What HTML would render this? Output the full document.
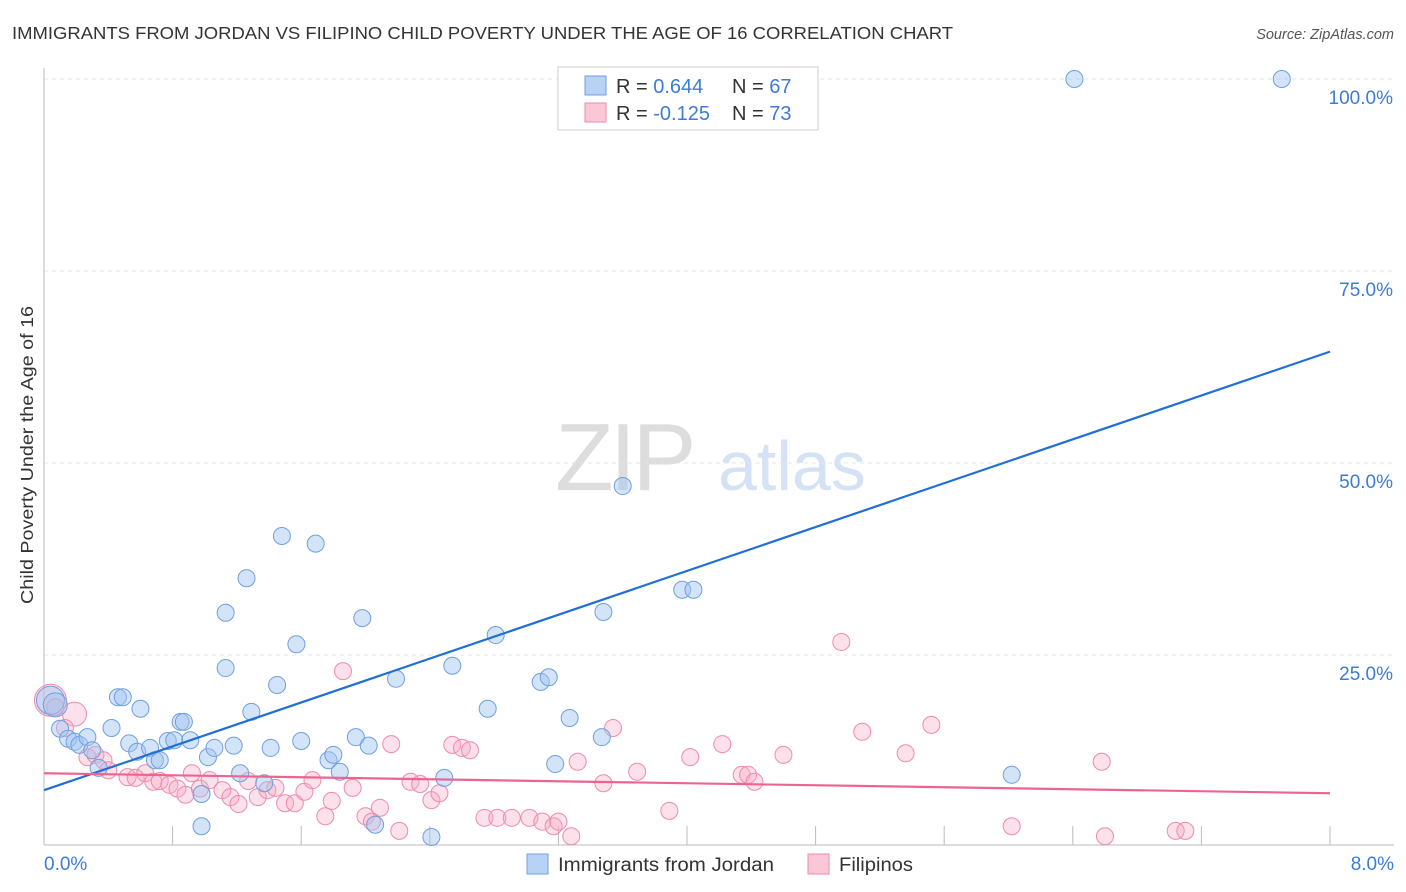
<!DOCTYPE html>
<html><head><meta charset="utf-8"><style>
body{margin:0;background:#fff;font-family:"Liberation Sans",sans-serif;}
#wrap{position:relative;width:1406px;height:892px;overflow:hidden;}
svg text{font-family:"Liberation Sans",sans-serif;}
</style></head><body>
<div id="wrap">
<svg id="chart" width="1406" height="892">
<text x="12" y="39" font-size="17.5" fill="#333" textLength="941" lengthAdjust="spacingAndGlyphs">IMMIGRANTS FROM JORDAN VS FILIPINO CHILD POVERTY UNDER THE AGE OF 16 CORRELATION CHART</text>
<text x="1394" y="39" font-size="14.5" fill="#555" font-style="italic" text-anchor="end">Source: ZipAtlas.com</text>
<text x="33" y="455" font-size="17.5" fill="#333" text-anchor="middle" transform="rotate(-90 33 455)" textLength="298" lengthAdjust="spacingAndGlyphs">Child Poverty Under the Age of 16</text>
<g>
<text x="555" y="490" font-size="96" fill="#ddd" font-family="Liberation Serif" letter-spacing="-4">ZIP</text>
<text x="718" y="490" font-size="70" fill="#d3e2f5">atlas</text>
</g>
<g id="grid"></g><g id="pts"></g><g id="lines"></g>
<g>
<rect x="558" y="67" width="260" height="63" fill="#fff" stroke="#ccc"/>
<rect x="585" y="76" width="21" height="19" fill="#b7d2f5" stroke="#6f9fe0"/>
<rect x="585" y="103" width="21" height="19" fill="#fbc6d6" stroke="#f08aaa"/>
<text x="616" y="93" font-size="20" fill="#333">R = <tspan fill="#3d7bd9">0.644</tspan><tspan x="732">N = </tspan><tspan fill="#3d7bd9">67</tspan></text>
<text x="616" y="120" font-size="20" fill="#333">R = <tspan fill="#3d7bd9">-0.125</tspan><tspan x="732">N = </tspan><tspan fill="#3d7bd9">73</tspan></text>
</g>
<g>
<rect x="527" y="854" width="21" height="20" fill="#b7d2f5" stroke="#6f9fe0"/>
<text x="558" y="871" font-size="19" fill="#333" textLength="216" lengthAdjust="spacingAndGlyphs">Immigrants from Jordan</text>
<rect x="808" y="854" width="21" height="20" fill="#fbc6d6" stroke="#f08aaa"/>
<text x="839" y="871" font-size="19" fill="#333" textLength="74" lengthAdjust="spacingAndGlyphs">Filipinos</text>
</g>
</svg>
</div>
<script>
const xTicks=[0,0.8,1.6,2.4,3.2,4.0,4.8,5.6,6.4,7.2,8.0];
const yTicks=[25,50,75,100];
const yTickLabels=["25.0%","50.0%","75.0%","100.0%"];
const xEndLabels=["0.0%","8.0%"];
const jordanX=[0.04,0.07,0.10,0.15,0.19,0.22,0.27,0.30,0.34,0.42,0.46,0.49,0.60,0.53,0.58,0.66,0.69,0.72,0.77,0.85,0.87,0.81,0.91,0.98,1.02,1.06,1.13,1.13,1.18,1.22,1.26,1.29,1.37,1.41,1.45,1.48,1.57,1.60,1.69,1.77,1.80,1.84,1.94,1.98,2.02,2.06,2.19,2.41,2.49,2.54,2.76,2.81,3.09,3.14,3.18,3.27,3.47,3.48,3.60,3.97,4.04,6.02,6.41,7.70,0.98];
const jordanY=[19.1,18.5,15.4,14.1,13.7,13.3,14.3,12.6,10.3,15.5,19.5,19.5,18.0,13.5,12.4,12.9,11.3,11.3,13.8,16.3,16.3,13.9,13.9,6.9,11.7,12.9,30.5,23.3,13.2,9.6,35.0,17.6,8.3,12.9,21.1,40.5,26.4,13.8,39.5,11.3,12.0,9.8,14.3,29.8,13.2,2.9,21.9,1.3,9.0,23.6,18.0,27.6,21.5,22.1,10.8,16.8,14.3,30.6,47.0,33.5,33.5,9.4,100,100,2.7];
const filX=[0.04,0.07,0.19,0.13,0.27,0.32,0.37,0.40,0.52,0.57,0.63,0.68,0.72,0.78,0.83,0.88,0.92,0.97,1.03,1.11,1.16,1.21,1.27,1.33,1.39,1.44,1.50,1.56,1.62,1.67,1.75,1.79,1.86,1.92,2.00,2.04,2.09,2.16,2.21,2.28,2.34,2.41,2.46,2.54,2.60,2.65,2.74,2.82,2.91,3.02,3.10,3.17,3.20,3.28,3.32,3.48,3.54,3.69,3.89,4.02,4.22,4.34,4.38,4.42,4.60,4.96,5.09,5.36,5.52,6.02,6.58,6.60,7.04,7.10];
const filY=[19.1,18.2,17.3,15.5,11.7,12.0,11.3,10.0,9.1,9.0,9.6,8.5,8.6,8.1,7.6,6.8,9.6,7.6,8.7,7.4,6.5,5.6,8.6,6.5,7.4,7.7,5.7,5.7,7.2,8.7,4.0,6.0,22.9,7.7,4.0,3.3,5.1,13.4,2.1,8.5,8.2,6.1,7.0,13.3,12.9,12.6,3.8,3.8,3.8,3.8,3.3,2.7,3.3,1.4,11.1,8.3,15.5,9.8,4.7,11.7,13.4,9.4,9.4,8.5,12.0,26.7,15.0,12.2,15.9,2.7,11.1,1.4,2.1,2.1];
const jordanTrend=[7.4,64.5];
const filTrend=[9.6,7.0];
const NS="http://www.w3.org/2000/svg";
const X0=44,X1=1330,Y0=847,Y100=79;
const sx=v=>X0+(v/8)*(X1-X0);
const sy=v=>Y0-(v/100)*(Y0-Y100);
function mk(tag,attrs,parent){const e=document.createElementNS(NS,tag);for(const k in attrs)e.setAttribute(k,attrs[k]);parent.appendChild(e);return e;}
const grid=document.getElementById('grid');
yTicks.forEach((t,i)=>{
 const l=mk('line',{x1:X0,x2:1394,y1:sy(t),y2:sy(t),stroke:'#e4e4e4','stroke-dasharray':'4,4'},grid);
 
 
 const tx=mk('text',{x:1393,y:sy(t)+25,'font-size':19,fill:'#3d7bd9','text-anchor':'end'},grid);
 tx.textContent=yTickLabels[i];
 
 
});
const ax=mk('line',{x1:X0,x2:X0,y1:68,y2:845,stroke:'#bbb'},grid);


const bx=mk('line',{x1:X0,x2:1394,y1:845,y2:845,stroke:'#bbb'},grid);


xTicks.forEach((t,i)=>{if(i===0)return;
 const l=mk('line',{x1:sx(t),x2:sx(t),y1:826,y2:845,stroke:'#bbb'},grid);
 
 
});
[[0,'start',44],[8,'end',1394]].forEach((d,i)=>{
 const tx=mk('text',{x:d[2],y:870,'font-size':19,fill:'#3d7bd9','text-anchor':d[1]},grid);
 tx.textContent=xEndLabels[i];
 
 
});
const pts=document.getElementById('pts');
filX.forEach((x,i)=>{
 const r=i===0?16:(i===2?12:8.5);
 const c=mk('circle',{cx:sx(x),cy:sy(filY[i]),r:r,fill:'rgba(246,168,194,0.35)',stroke:'#f08aaa','stroke-width':1},pts);
 
 
});
jordanX.forEach((x,i)=>{
 const r=i===0?14:(i===1?12:8.5);
 const c=mk('circle',{cx:sx(x),cy:sy(jordanY[i]),r:r,fill:'rgba(160,196,240,0.45)',stroke:'#6f9fe0','stroke-width':1},pts);
 
 
});
const lines=document.getElementById('lines');
const bl=mk('line',{x1:sx(0),y1:sy(jordanTrend[0]),x2:sx(8),y2:sy(jordanTrend[1]),stroke:'#1f6fd6','stroke-width':2.2},lines);


const pl=mk('line',{x1:sx(0),y1:sy(filTrend[0]),x2:sx(8),y2:sy(filTrend[1]),stroke:'#ec6592','stroke-width':2.2},lines);


</script>
</body></html>
